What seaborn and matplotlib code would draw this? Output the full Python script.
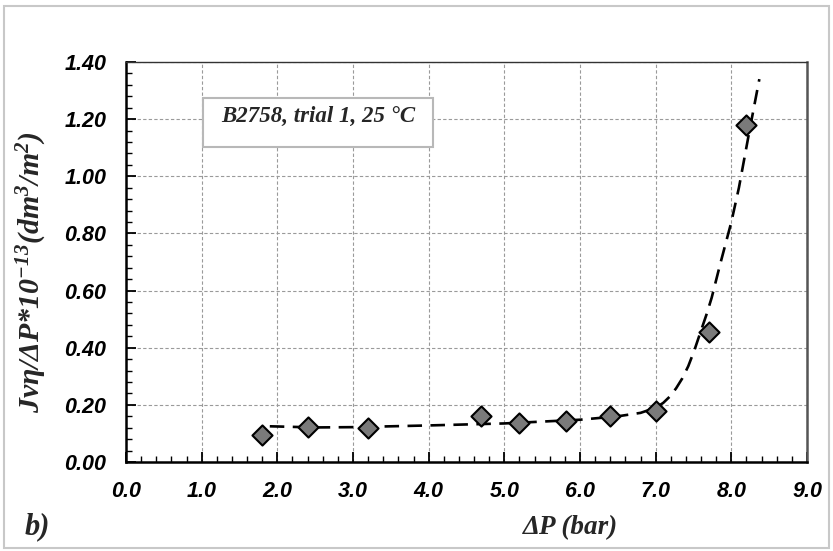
import numpy as np
import pandas as pd
import matplotlib
matplotlib.use("Agg")
import matplotlib.pyplot as plt
import seaborn as sns
from matplotlib.ticker import MultipleLocator
from matplotlib.patches import Rectangle

# Measured data
dp = [1.80, 2.40, 3.20, 4.69, 5.20, 5.81, 6.40, 7.00, 7.70, 8.20]
jv = [0.095, 0.122, 0.120, 0.162, 0.137, 0.142, 0.160, 0.178, 0.455, 1.180]

# Fitted trend (dashed)
fit_x = [1.90, 2.50, 3.00, 4.00, 5.00, 6.00, 6.50, 6.80, 7.00, 7.10, 7.19, 7.27, 7.35, 7.43, 7.51, 7.58,
         7.67, 7.74, 7.85, 8.00, 8.10, 8.24, 8.37]
fit_y = [0.125, 0.121, 0.122, 0.128, 0.135, 0.148, 0.160, 0.172, 0.190, 0.207, 0.230, 0.258, 0.292,
         0.335, 0.390, 0.445, 0.515, 0.575, 0.690, 0.840, 0.960, 1.160, 1.340]

x_ticks = [0, 1, 2, 3, 4, 5, 6, 7, 8, 9]
y_ticks = [0.0, 0.2, 0.4, 0.6, 0.8, 1.0, 1.2, 1.4]

sns.set_theme(style="white")
plt.rcParams['font.family'] = ['Liberation Sans', 'DejaVu Sans']
plt.rcParams['mathtext.fontset'] = 'custom'
plt.rcParams['mathtext.rm'] = 'Liberation Serif:bold:italic'
plt.rcParams['mathtext.it'] = 'Liberation Serif:bold:italic'
plt.rcParams['mathtext.bf'] = 'Liberation Serif:bold:italic'
plt.rcParams['mathtext.default'] = 'it'

fig = plt.figure(figsize=(8.33, 5.51), dpi=100)
ax = fig.add_axes([0.1513, 0.1615, 0.8175, 0.726])

df_pts = pd.DataFrame({"dp": dp, "jv": jv})
df_fit = pd.DataFrame({"x": fit_x, "y": fit_y})

sns.lineplot(data=df_fit, x="x", y="y", ax=ax, color="black", lw=1.9,
             linestyle=(0, (5.5, 3.2)), zorder=3, sort=False)
sns.scatterplot(data=df_pts, x="dp", y="jv", ax=ax, marker="D", s=105,
                color="#7a7a7a", edgecolor="black", linewidth=1.5, zorder=4)

ax.set_xlim(0, 9)
ax.set_ylim(0, 1.4)
ax.set_xticks(x_ticks)
ax.set_yticks(y_ticks)
ax.set_xticklabels([f"{v:.1f}" for v in x_ticks])
ax.set_yticklabels([f"{v:.2f}" for v in y_ticks])
ax.xaxis.set_minor_locator(MultipleLocator(0.2))
ax.yaxis.set_minor_locator(MultipleLocator(0.04))

ax.grid(True, which="major", color="#9a9a9a", linestyle=(0, (3, 2)), linewidth=0.8)
ax.set_axisbelow(True)

ax.tick_params(axis="both", which="major", direction="in", length=7, width=1.3,
               colors="black", labelsize=15.5)
ax.tick_params(axis="x", which="major", pad=14)
ax.tick_params(axis="y", which="major", pad=14)
ax.tick_params(axis="both", which="minor", direction="in", length=4, width=1.0,
               colors="black")
ax.tick_params(bottom=True, left=True, top=False, right=False)
ax.tick_params(which="minor", bottom=True, left=True, top=False, right=False)
for lab in ax.get_xticklabels() + ax.get_yticklabels():
    lab.set_fontweight("heavy")
    lab.set_fontstyle("italic")

for s in ["left", "bottom"]:
    ax.spines[s].set_color("black")
    ax.spines[s].set_linewidth(1.8)
ax.spines["top"].set_color("#333333")
ax.spines["top"].set_linewidth(1.0)
ax.spines["right"].set_color("#555555")
ax.spines["right"].set_linewidth(1.8)

serif = ['Liberation Serif', 'DejaVu Serif']
ax.set_xlabel("ΔP (bar)", family=serif, fontsize=19.5, fontweight="bold",
              fontstyle="italic")
ax.xaxis.set_label_coords(0.652, -0.133)
ax.set_ylabel(r"Jvη/ΔP*10$^{-13}$(dm$^{3}$/m$^{2}$)", family=serif,
              fontsize=21.5, fontweight="bold", fontstyle="italic")
ax.yaxis.set_label_coords(-0.113, 0.475)

ax.add_patch(Rectangle((0.113, 0.7875), 0.338, 0.1225, transform=ax.transAxes,
                       facecolor="white", edgecolor="#b8b8b8", lw=1.5, zorder=5))
ax.text(0.282, 0.865, "B2758, trial 1, 25 °C", transform=ax.transAxes,
        family=serif, fontsize=16.5, fontweight="bold", fontstyle="italic",
        va="center", ha="center", zorder=6)

fig.text(0.03, 0.044, "b)", family=serif, fontsize=22, fontweight="bold",
         fontstyle="italic", ha="left", va="center")

fig.patches.append(Rectangle((0.005, 0.005), 0.99, 0.985, transform=fig.transFigure,
                             fill=False, edgecolor="#c8c8c8", lw=1.5))

fig.savefig("out.png", dpi=100)
